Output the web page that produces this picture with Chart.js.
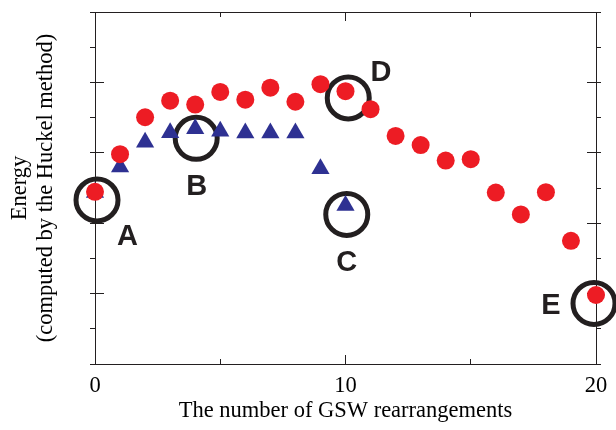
<!DOCTYPE html>
<html><head><meta charset="utf-8">
<script src="https://cdn.jsdelivr.net/npm/chart.js@4.4.1/dist/chart.umd.min.js"></script>
<style>html,body{margin:0;padding:0;background:#fff}#wrap{width:616px;height:430px}</style>
</head><body><div id="wrap"><canvas id="c" width="616" height="430"></canvas></div>
<script>
const rearrangements = [0,1,2,3,4,5,6,7,8,9,10,11,12,13,14,15,16,17,18,19,20];
const redEnergy = [4.89,5.96,7.01,7.48,7.37,7.73,7.51,7.85,7.45,7.95,7.75,7.24,6.48,6.22,5.78,5.82,4.87,4.25,4.88,3.50,1.96];
const blueSteps = [0,1,2,3,4,5,6,7,8,9,10];
const blueEnergy = [4.87,5.60,6.30,6.57,6.68,6.61,6.56,6.56,6.56,5.55,4.50];
const ringX = [0.08,4.04,10.05,10.11,19.92];
const ringY = [4.66,6.41,4.25,7.56,1.72];
const markText = ["A","B","C","D","E"];
const markX = [1.30,4.06,10.05,11.42,18.20];
const markY = [3.69,5.09,2.93,8.34,1.71];
const xTickLabels = ["0","10","20"];

const INK = '#231F20';
const serif = '"Liberation Serif","Times New Roman",serif';

const pts = (xs, ys) => xs.map((x,i)=>({x:x, y:ys[i]}));

const letters = {
  id:'letters',
  afterDatasetsDraw(chart){
    const {ctx, scales:{x,y}} = chart;
    ctx.save();
    const size = 29;
    ctx.font = 'bold '+size+'px "Liberation Sans", Arial, sans-serif';
    ctx.fillStyle = INK;
    ctx.textAlign = 'center';
    ctx.textBaseline = 'alphabetic';
    markText.forEach((t,i)=>{
      ctx.fillText(t, x.getPixelForValue(markX[i]), y.getPixelForValue(markY[i]) + size*0.36);
    });
    ctx.restore();
  }
};

function majorGrid(len){ return {drawOnChartArea:false, drawTicks:true, tickLength:len, tickColor:INK, tickWidth:1}; }

new Chart(document.getElementById('c'), {
  type:'scatter',
  data:{datasets:[
    {label:'red', data: pts(rearrangements, redEnergy), pointStyle:'circle', pointRadius:9, pointBackgroundColor:'#ED1C24', pointBorderWidth:0, clip:false},
    {label:'blue', data: pts(blueSteps, blueEnergy), pointStyle:'triangle', pointRadius:10.5, pointBackgroundColor:'#2E3192', pointBorderWidth:0, clip:false},
    {label:'rings', data: pts(ringX, ringY), pointStyle:'circle', pointRadius:21, pointBackgroundColor:'rgba(0,0,0,0)', pointBorderColor:INK, pointBorderWidth:5, clip:false}
  ]},
  options:{
    responsive:false, animation:false, devicePixelRatio:1,
    layout:{autoPadding:false, padding:{left:0, top:12, right:20, bottom:0}},
    plugins:{legend:{display:false}, tooltip:{enabled:false}},
    elements:{point:{hoverRadius:0}},
    scales:{
      x:{type:'linear', position:'bottom', min:0, max:20,
        ticks:{stepSize:10, color:'#000', font:{family:serif, size:22.5}, padding:18, maxRotation:0,
          callback:(v)=>{const i=[0,10,20].indexOf(v); return i>=0?xTickLabels[i]:'';}},
        grid:majorGrid(-9), border:{display:true, color:INK, width:1},
        title:{display:true, text:'The number of GSW rearrangements', color:'#000', font:{family:serif, size:22.5}, padding:{top:0,bottom:5}},
        afterFit:(s)=>{s.height=66; s.paddingLeft=0; s.paddingRight=0;}
      },
      y:{type:'linear', position:'left', min:0, max:10,
        ticks:{stepSize:2, display:false},
        grid:majorGrid(-9), border:{display:true, color:INK, width:1},
        title:{display:true, text:['Energy','(computed by the Huckel method)'], color:'#000', font:{family:serif, size:22.5, lineHeight:1.15}, padding:{top:7,bottom:0}},
        afterFit:(s)=>{s.width=95;}
      },
      x2:{type:'linear', axis:'x', position:'top', min:0, max:20,
        ticks:{stepSize:10, display:false}, grid:majorGrid(-9), border:{display:true, color:INK, width:1},
        afterFit:(s)=>{s.height=0;}
      },
      y2:{type:'linear', axis:'y', position:'right', min:0, max:10,
        ticks:{stepSize:2, display:false}, grid:majorGrid(-9), border:{display:true, color:INK, width:1},
        afterFit:(s)=>{s.width=0;}
      },
      xm:{type:'linear', axis:'x', position:{y:0}, min:0, max:20,
        ticks:{stepSize:5, display:false}, grid:majorGrid(-5), border:{display:false}},
      xm2:{type:'linear', axis:'x', position:{y:10}, min:0, max:20,
        ticks:{stepSize:5, display:false}, grid:majorGrid(5), border:{display:false}},
      ym:{type:'linear', axis:'y', position:{x:0}, min:0, max:10,
        ticks:{stepSize:1, display:false}, grid:majorGrid(5), border:{display:false}},
      ym2:{type:'linear', axis:'y', position:{x:20}, min:0, max:10,
        ticks:{stepSize:1, display:false}, grid:majorGrid(-5), border:{display:false}}
    }
  },
  plugins:[letters]
});
</script></body></html>
